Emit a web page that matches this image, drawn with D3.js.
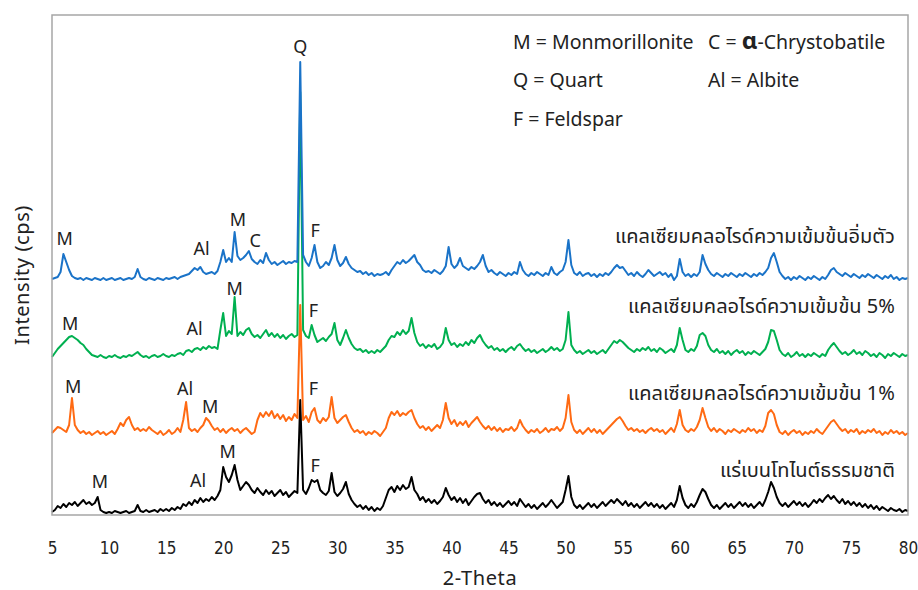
<!DOCTYPE html>
<html>
<head>
<meta charset="utf-8">
<script src="https://cdn.jsdelivr.net/npm/d3@7"></script>
<style>
  body { margin: 0; background: #fff; }
  text { font-family: "Noto Sans", "Noto Sans Thai", sans-serif; fill: #222; }
  .tick-lbl { font-family: "Liberation Sans Narrow", "DejaVu Sans Condensed", sans-serif; font-size: 17px; }
</style>
</head>
<body>
<svg id="chart" width="918" height="590"></svg>
<script>

// 2-theta grid: one reading every 0.25 degree from 5 to 80
let twoTheta = d3.range(0, 301).map(i => 5 + i * 0.25);

// intensity (arbitrary cps, above each trace's own baseline)
let natural = [
 1,3,7,5, 9,6,10,8, 11,7,10,13, 9,11,8,10, 16,3,1,0, 1,0,2,1, 0,1,2,0, 1,2,8,2, 1,3,1,2, 3,1,4,2,
 4,2,5,3, 6,4,9,7, 11,8,13,10, 15,11,14,12, 16,13,17,23, 46,36,31,38, 48,33,23,27, 31,28,23,20, 25,21,18,23,
 19,22,17,20, 23,18,21,16, 19,22,20,113, 23,19,25,33, 31,33,23,20, 18,22,40,21, 17,20,24,31, 19,13,9,6,
 8,4,7,3, 6,2,5,3, 7,15,23,26, 21,27,23,28, 24,26,36,23, 19,13,16,11, 14,10,13,9, 12,16,25,18, 13,16,11,15,
 10,14,8,12, 16,19,20,14, 10,13,8,11, 7,10,6,9, 12,8,11,7, 14,10,6,9, 5,8,4,7, 10,6,9,13, 9,5,8,11,
 23,37,16,8, 5,8,4,7, 10,6,9,5, 8,11,7,10, 13,10,14,11, 8,12,7,10, 6,9,5,8, 11,7,10,6, 9,5,8,4, 7,10,6,13,
 27,15,8,5, 9,6,11,18, 24,21,14,8, 5,8,4,7, 10,6,9,5, 8,11,7,10, 6,9,5,8, 11,7,13,21, 31,25,16,10,
 7,10,6,9, 12,8,11,7, 10,6,9,13, 10,14,11,15, 18,14,17,13, 10,14,9,12, 8,11,7,10, 6,9,5,8, 4,7,3,6, 4,2,5,3,
 2,4,1,3, 2
];

let cacl2_1 = [
 3,6,9,8, 6,4,11,38, 11,6,3,5, 2,4,1,3, 5,2,4,1, 3,5,2,7, 13,10,16,19, 11,6,8,5, 7,5,9,6, 4,2,5,1,
 3,6,2,4, 8,4,16,34, 8,5,7,4, 8,11,18,15, 10,6,8,4, 7,3,6,8, 5,7,3,6, 8,5,2,4, 16,23,19,24, 20,25,18,22,
 17,21,15,19, 16,22,18,131, 16,20,14,24, 28,16,13,18, 15,19,39,18, 13,16,19,21, 14,8,4,6, 3,5,1,4, 2,5,3,0,
 4,8,18,24, 21,25,20,23, 21,24,26,18, 12,8,10,6, 9,5,8,11, 8,16,33,18, 12,16,10,14, 11,15,9,13, 16,19,14,10,
 7,10,6,9, 5,8,4,7, 6,9,5,8, 16,10,6,3, 6,4,7,3, 5,8,4,7, 6,9,5,8, 18,41,14,6, 3,6,2,5, 8,4,7,3, 6,2,5,8,
 11,14,17,19, 15,10,6,8, 5,7,4,6, 3,6,8,5, 7,4,6,2, 5,8,4,12, 26,11,6,4, 7,5,9,16, 28,18,9,5, 8,4,7,5,
 2,6,4,7, 5,3,6,4, 8,5,7,3, 6,4,10,23, 26,22,11,4, 2,5,1,4, 6,3,5,1, 4,2,5,3, 7,4,2,6, 10,14,16,12,
 8,5,7,3, 6,4,7,2, 5,3,6,4, 7,3,5,1, 4,2,6,3, 5,2,4,1, 3
];

let cacl2_5 = [
 2,6,10,13, 16,19,22,23, 21,19,16,14, 10,7,4,3, 2,4,2,1, 3,2,4,2, 1,3,2,4, 3,5,7,4, 2,3,1,3, 4,2,3,5,
 3,2,4,3, 5,6,4,8, 9,7,10,11, 9,12,10,13, 11,12,10,29, 46,23,28,25, 62,23,27,24, 29,31,25,22, 24,21,25,29,
 23,26,22,25, 21,24,20,23, 25,22,24,267, 29,23,21,34, 24,17,19,21, 18,22,25,36, 19,14,21,29, 21,15,11,9,
 10,7,9,6, 8,6,9,7, 10,13,19,23, 22,27,24,29, 25,28,41,26, 17,13,15,11, 14,12,15,10, 12,16,31,19, 14,16,12,15,
 13,17,14,19, 16,21,24,18, 14,11,13,9, 11,8,10,7, 10,12,9,13, 15,11,8,10, 7,9,6,8, 10,7,9,12, 9,11,8,10,
 19,47,14,9, 6,8,5,7, 9,6,8,5, 7,9,6,10, 14,18,16,19, 17,14,11,9, 7,10,8,11, 9,12,8,10, 7,11,9,6, 8,10,7,14,
 31,19,9,7, 10,8,13,24, 26,23,14,9, 7,10,6,8, 5,8,4,7, 9,6,8,4, 7,5,8,6, 4,7,10,17, 29,28,19,9,
 5,3,6,2, 4,7,3,5, 2,5,3,6, 4,2,5,3, 9,13,16,12, 8,5,7,4, 6,9,5,7, 4,8,6,3, 5,2,6,4, 1,5,3,6, 4,2,5,3,
 4
];

let cacl2_sat = [
 2,3,4,9, 27,19,11,5, 3,2,3,1, 3,2,1,3, 2,1,3,1, 2,3,1,2, 3,1,2,3, 2,4,12,4, 2,1,3,2, 1,3,2,1,
 3,2,3,4, 2,4,5,6, 7,10,13,11, 14,9,7,8, 9,7,10,19, 31,19,23,19, 49,25,21,23, 26,30,22,19, 17,21,18,28,
 21,17,19,16, 18,20,17,19, 18,20,19,219, 26,19,15,23, 36,19,13,15, 19,16,23,36, 21,15,18,24, 17,13,11,9,
 10,7,9,6, 8,5,7,6, 7,9,6,11, 15,19,17,21, 18,20,23,26, 19,16,11,9, 10,8,11,9, 7,10,15,34, 17,13,16,23,
 15,13,11,14, 12,15,19,26, 15,9,11,8, 6,9,7,5, 8,6,9,7, 19,11,7,5, 8,6,9,7, 5,8,6,14, 8,6,9,11,
 19,41,16,8, 6,9,5,7, 8,5,7,4, 7,5,8,6, 9,13,16,13, 14,10,6,8, 5,9,6,4, 7,11,8,5, 7,9,6,8, 4,7,1,5,
 22,9,5,7, 4,7,5,9, 26,17,11,7, 5,8,6,4, 7,5,8,6, 4,7,5,8, 6,4,7,5, 8,6,9,13, 23,28,19,9,
 5,2,4,1, 4,2,5,3, 1,4,2,5, 3,1,4,2, 6,11,13,9, 7,5,8,6, 4,7,5,3, 6,4,7,5, 3,6,4,2, 5,3,6,2, 4,1,3,2,
 3
];

// stacking order bottom to top, with the shift each trace was given in the plot
let seriesNames = ["แร่เบนโทไนต์ธรรมชาติ", "แคลเซียมคลอไรด์ความเข้มข้น 1%", "แคลเซียมคลอไรด์ความเข้มข้น 5%", "แคลเซียมคลอไรด์ความเข้มข้นอิ่มตัว"];
let seriesData = [natural, cacl2_1, cacl2_5, cacl2_sat];
let offsets = [2, 79, 156, 234];
let colors = ["#000000", "#ff6a13", "#00b050", "#1a73c8"];
// where each trace name sits: intensity of its baseline
let nameLevel = [38, 115, 202, 272];

// phase letters above the peaks: [trace, 2-theta, intensity, letter]
let peakLabels = [
  [0, 9.2, 27, "M"], [0, 17.8, 28, "Al"], [0, 20.4, 57, "M"], [0, 28.05, 43, "F"],
  [1, 6.85, 122, "M"], [1, 16.65, 120, "Al"], [1, 18.85, 102, "M"], [1, 27.9, 120, "F"],
  [2, 6.6, 185, "M"], [2, 17.5, 180, "Al"], [2, 21.0, 220, "M"], [2, 27.9, 198, "F"],
  [3, 6.1, 270, "M"], [3, 18.1, 260, "Al"], [3, 21.3, 289, "M"], [3, 22.8, 268, "C"], [3, 28.05, 278, "F"],
  [3, 26.75, 462, "Q"]
];

let xTicks = d3.range(5, 81, 5);

let svg = d3.select("#chart"),
    margin = {top: 15, right: 10, bottom: 75, left: 52},
    width = +svg.attr("width") - margin.left - margin.right,
    height = +svg.attr("height") - margin.top - margin.bottom;

svg.append("rect").attr("width", 918).attr("height", 590).attr("fill", "#fff");

let x = d3.scaleLinear().domain([5, 80]).range([0, width]);
let y = d3.scaleLinear().domain([0, 500]).range([height, 0]);

let g = svg.append("g")
    .attr("transform", "translate(" + margin.left + "," + margin.top + ")");

// traces
for (let s = 0; s < seriesData.length; s++) {
    let line = d3.line()
        .x((d, i) => x(twoTheta[i]))
        .y(d => y(d + offsets[s]));
    g.append("path")
        .datum(seriesData[s])
        .attr("fill", "none")
        .attr("stroke", colors[s])
        .attr("stroke-width", 2)
        .attr("stroke-linejoin", "round")
        .attr("d", line);
}

// frame
g.append("rect")
    .attr("width", width).attr("height", height)
    .attr("fill", "none").attr("stroke", "#a6a6a6").attr("stroke-width", 1.5);

// x axis, labels only
let xAxis = d3.axisBottom(x).tickValues(xTicks).tickSize(0).tickPadding(27);
let ax = g.append("g").attr("transform", "translate(0," + height + ")").call(xAxis);
ax.select(".domain").remove();
ax.selectAll("text").attr("class", "tick-lbl").attr("fill", "#222");

// peak letters
g.selectAll(".peak")
    .data(peakLabels)
    .enter().append("text")
    .attr("class", "peak")
    .attr("x", d => x(d[1]))
    .attr("y", d => y(d[2]))
    .attr("text-anchor", "middle")
    .style("font-size", "18px")
    .text(d => d[3]);

// trace names
g.selectAll(".sname")
    .data(seriesNames)
    .enter().append("text")
    .attr("class", "sname")
    .attr("x", x(78.85))
    .attr("y", (d, i) => y(nameLevel[i]))
    .attr("text-anchor", "end")
    .style("font-size", "20px")
    .text(d => d);

// key for the phase letters
let key = svg.append("g").style("font-size", "19.5px");
key.append("text").attr("x", 513).attr("y", 49).text("M = Monmorillonite");
let c = key.append("text").attr("x", 708).attr("y", 49);
c.append("tspan").text("C = ");
c.append("tspan").style("font-weight", "bold").style("font-size", "24px").text("α");
c.append("tspan").text("-Chrystobatile");
key.append("text").attr("x", 513).attr("y", 87).text("Q = Quart");
key.append("text").attr("x", 708).attr("y", 87).text("Al = Albite");
key.append("text").attr("x", 513).attr("y", 126).text("F = Feldspar");

// axis titles
svg.append("text")
    .attr("x", margin.left + width / 2).attr("y", 585)
    .attr("text-anchor", "middle")
    .style("font-size", "20px")
    .style("letter-spacing", "0.6px")
    .text("2-Theta");

svg.append("text")
    .attr("transform", "rotate(-90)")
    .attr("x", -275).attr("y", 29)
    .attr("text-anchor", "middle")
    .style("font-size", "20px")
    .style("letter-spacing", "0.6px")
    .text("Intensity (cps)");

</script>
</body>
</html>
